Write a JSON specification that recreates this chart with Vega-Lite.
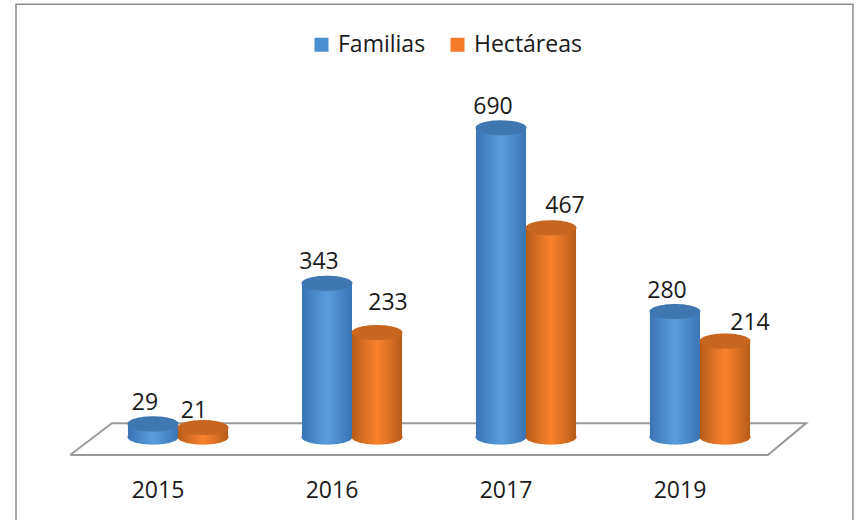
{
"$schema":"https://vega.github.io/schema/vega-lite/v6.json",
"width":696,"height":460,
"autosize":"none",
"padding":{"left":91,"top":0,"right":69,"bottom":61},
"background":"white",
"config":{"view":{"stroke":null},"font":"Open Sans"},
"datasets":{
"values":[
{"year":"2015","series":"Familias","value":29},{"year":"2015","series":"Hectáreas","value":21},
{"year":"2016","series":"Familias","value":343},{"year":"2016","series":"Hectáreas","value":233},
{"year":"2017","series":"Familias","value":690},{"year":"2017","series":"Hectáreas","value":467},
{"year":"2019","series":"Familias","value":280},{"year":"2019","series":"Hectáreas","value":214}],
"floor":[{"k":-0.12,"v":-40,"o":1},{"k":0.12,"v":31,"o":2},{"k":4.11,"v":31,"o":3},{"k":3.89,"v":-40,"o":4},{"k":-0.12,"v":-40,"o":5}],
"frame":[{"k":-0.431,"v":-185,"o":1},{"k":-0.431,"v":966,"o":2},{"k":4.379,"v":966,"o":3},{"k":4.379,"v":-185,"o":4}]
},
"resolve":{"scale":{"x":"independent"}},
"layer":[
{"data":{"name":"frame"},"mark":{"type":"line","stroke":"#8c8c8c","strokeWidth":1.5,"clip":false},
 "encoding":{"x":{"field":"k","type":"quantitative","scale":{"domain":[0,4]},"axis":null},
 "y":{"field":"v","type":"quantitative","scale":{"domain":[-51.3,975.4],"nice":false},"axis":null},"order":{"field":"o"}}},
{"data":{"name":"floor"},"mark":{"type":"line","stroke":"#9a9a9a","strokeWidth":2,"clip":false},
 "encoding":{"x":{"field":"k","type":"quantitative","scale":{"domain":[0,4]},"axis":null},
 "y":{"field":"v","type":"quantitative","scale":{"domain":[-51.3,975.4],"nice":false},"axis":null},"order":{"field":"o"}}},
{"data":{"name":"values"},
 "encoding":{
  "x":{"field":"year","type":"nominal","scale":{"paddingInner":0.425,"paddingOuter":0.2125},
   "axis":{"title":null,"domain":false,"ticks":false,"labelAngle":0,"labelFontSize":23,"labelColor":"#1a1a1a","labelPadding":19,"labelOffset":-20,"grid":false}},
  "xOffset":{"field":"series","type":"nominal","scale":{"domain":["Familias","Hectáreas"],"paddingInner":0,"paddingOuter":0}}
 },
 "layer":[
 {"mark":{"type":"bar"},
  "encoding":{"y":{"field":"value","type":"quantitative","scale":{"domain":[-51.3,975.4],"nice":false},"axis":null},
   "color":{"field":"series","type":"nominal","scale":{"domain":["Familias","Hectáreas"],"range":["#4a8fd0","#f47a2a"]},
    "legend":{"title":null,"orient":"none","legendX":219,"legendY":33,"direction":"horizontal","symbolType":"square","symbolSize":196,"symbolStrokeWidth":0,"labelFontSize":23,"labelColor":"#1a1a1a","columnPadding":20,"labelOffset":5}}}},
 {"transform":[{"filter":"datum.series==='Familias'"}],"mark":{"type":"point","filled":true,"opacity":1,"size":2601,"shape":"M -1 0 A 1 0.3 0 1 0 1 0 A 1 0.3 0 1 0 -1 0 Z",
   "fill":{"gradient":"linear","x1":0,"x2":1,"y1":0,"y2":0,"stops":[{"offset":0,"color":"#3a75b4"},{"offset":0.5,"color":"#5a9ddc"},{"offset":1,"color":"#3a75b4"}]}},
  "encoding":{"y":{"datum":0,"type":"quantitative"}}},
 {"transform":[{"filter":"datum.series==='Familias'"}],"mark":{"type":"bar",
   "fill":{"gradient":"linear","x1":0,"x2":1,"y1":0,"y2":0,"stops":[{"offset":0,"color":"#3a75b4"},{"offset":0.5,"color":"#5a9ddc"},{"offset":1,"color":"#3a75b4"}]}},
  "encoding":{"y":{"field":"value","type":"quantitative"}}},
 {"transform":[{"filter":"datum.series==='Familias'"}],"mark":{"type":"point","filled":true,"opacity":1,"size":2601,"fill":"#3f78b0","shape":"M -1 0 A 1 0.3 0 1 0 1 0 A 1 0.3 0 1 0 -1 0 Z"},
  "encoding":{"y":{"field":"value","type":"quantitative"}}},
 {"transform":[{"filter":"datum.series==='Hectáreas'"}],"mark":{"type":"point","filled":true,"opacity":1,"size":2601,"shape":"M -1 0 A 1 0.3 0 1 0 1 0 A 1 0.3 0 1 0 -1 0 Z",
   "fill":{"gradient":"linear","x1":0,"x2":1,"y1":0,"y2":0,"stops":[{"offset":0,"color":"#b85c18"},{"offset":0.5,"color":"#fb822c"},{"offset":1,"color":"#b85c18"}]}},
  "encoding":{"y":{"datum":0,"type":"quantitative"}}},
 {"transform":[{"filter":"datum.series==='Hectáreas'"}],"mark":{"type":"bar",
   "fill":{"gradient":"linear","x1":0,"x2":1,"y1":0,"y2":0,"stops":[{"offset":0,"color":"#b85c18"},{"offset":0.5,"color":"#fb822c"},{"offset":1,"color":"#b85c18"}]}},
  "encoding":{"y":{"field":"value","type":"quantitative"}}},
 {"transform":[{"filter":"datum.series==='Hectáreas'"}],"mark":{"type":"point","filled":true,"opacity":1,"size":2601,"fill":"#c8651f","shape":"M -1 0 A 1 0.3 0 1 0 1 0 A 1 0.3 0 1 0 -1 0 Z"},
  "encoding":{"y":{"field":"value","type":"quantitative"}}},
 {"transform":[{"filter":"datum.series==='Familias'"}],"mark":{"type":"text","fontSize":23,"color":"#1a1a1a","dx":-8,"dy":-21},
  "encoding":{"y":{"field":"value","type":"quantitative"},"text":{"field":"value","type":"quantitative"}}},
 {"transform":[{"filter":"datum.series==='Hectáreas' && datum.year==='2015'"}],"mark":{"type":"text","fontSize":23,"color":"#1a1a1a","dx":-9,"dy":-17},
  "encoding":{"y":{"field":"value","type":"quantitative"},"text":{"field":"value","type":"quantitative"}}},
 {"transform":[{"filter":"datum.series==='Hectáreas' && datum.year==='2016'"}],"mark":{"type":"text","fontSize":23,"color":"#1a1a1a","dx":11,"dy":-30},
  "encoding":{"y":{"field":"value","type":"quantitative"},"text":{"field":"value","type":"quantitative"}}},
 {"transform":[{"filter":"datum.series==='Hectáreas' && datum.year==='2017'"}],"mark":{"type":"text","fontSize":23,"color":"#1a1a1a","dx":14,"dy":-22},
  "encoding":{"y":{"field":"value","type":"quantitative"},"text":{"field":"value","type":"quantitative"}}},
 {"transform":[{"filter":"datum.series==='Hectáreas' && datum.year==='2019'"}],"mark":{"type":"text","fontSize":23,"color":"#1a1a1a","dx":25,"dy":-18},
  "encoding":{"y":{"field":"value","type":"quantitative"},"text":{"field":"value","type":"quantitative"}}}
 ]}
]
}
